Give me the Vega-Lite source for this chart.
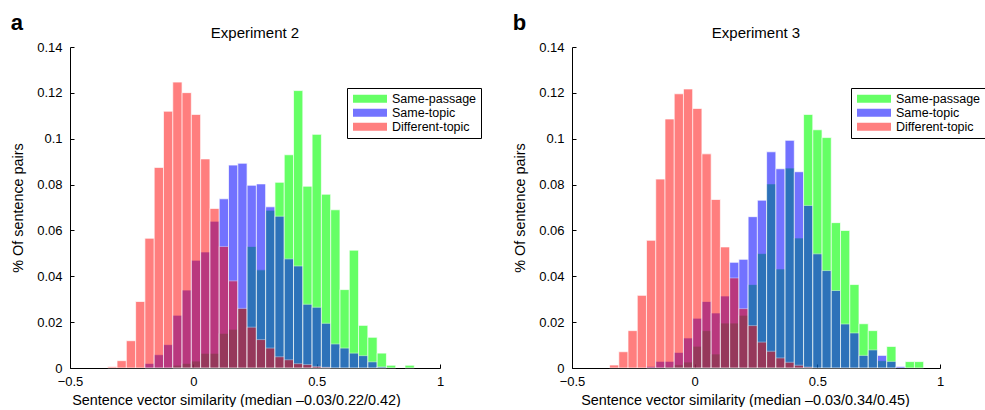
{
  "$schema": "https://vega.github.io/schema/vega-lite/v6.json",
  "padding": {"left": 10, "top": 12, "right": 0, "bottom": 0},
  "config": {
    "view": {"stroke": null},
    "font": "Liberation Sans",
    "axis": {
      "domainColor": "black", "tickColor": "black", "labelColor": "black", "titleColor": "black",
      "labelFont": "Liberation Sans", "titleFont": "Liberation Sans",
      "labelFontSize": 13, "titleFontSize": 14.4, "titleFontWeight": "normal",
      "grid": false, "tickSize": -4, "domainWidth": 1, "tickWidth": 1, "zindex": 1, "labelFlush": false
    },
    "title": {"font": "Liberation Sans", "color": "black"}
  },
  "datasets": {
    "a": [
      {"x0": -0.3470, "x1": -0.3093, "Same-passage": 0, "Same-topic": 0, "Different-topic": 0.0005},
      {"x0": -0.3093, "x1": -0.2717, "Same-passage": 0, "Same-topic": 0, "Different-topic": 0.0032},
      {"x0": -0.2717, "x1": -0.2340, "Same-passage": 0, "Same-topic": 0, "Different-topic": 0.0119},
      {"x0": -0.2340, "x1": -0.1964, "Same-passage": 0, "Same-topic": 0, "Different-topic": 0.029},
      {"x0": -0.1964, "x1": -0.1587, "Same-passage": 0, "Same-topic": 0.002, "Different-topic": 0.0566},
      {"x0": -0.1587, "x1": -0.1210, "Same-passage": 0, "Same-topic": 0.0058, "Different-topic": 0.0875},
      {"x0": -0.1210, "x1": -0.0834, "Same-passage": 0, "Same-topic": 0.0102, "Different-topic": 0.112},
      {"x0": -0.0834, "x1": -0.0457, "Same-passage": 0.0012, "Same-topic": 0.023, "Different-topic": 0.1247},
      {"x0": -0.0457, "x1": -0.0081, "Same-passage": 0.002, "Same-topic": 0.034, "Different-topic": 0.1201},
      {"x0": -0.0081, "x1": 0.0296, "Same-passage": 0.003, "Same-topic": 0.047, "Different-topic": 0.1106},
      {"x0": 0.0296, "x1": 0.0673, "Same-passage": 0.0064, "Same-topic": 0.0506, "Different-topic": 0.0912},
      {"x0": 0.0673, "x1": 0.1049, "Same-passage": 0.0064, "Same-topic": 0.064, "Different-topic": 0.0696},
      {"x0": 0.1049, "x1": 0.1426, "Same-passage": 0.0151, "Same-topic": 0.0738, "Different-topic": 0.053},
      {"x0": 0.1426, "x1": 0.1802, "Same-passage": 0.0169, "Same-topic": 0.0885, "Different-topic": 0.038},
      {"x0": 0.1802, "x1": 0.2179, "Same-passage": 0.026, "Same-topic": 0.0893, "Different-topic": 0.026},
      {"x0": 0.2179, "x1": 0.2556, "Same-passage": 0.053, "Same-topic": 0.0797, "Different-topic": 0.0178},
      {"x0": 0.2556, "x1": 0.2932, "Same-passage": 0.0428, "Same-topic": 0.0803, "Different-topic": 0.0124},
      {"x0": 0.2932, "x1": 0.3309, "Same-passage": 0.0688, "Same-topic": 0.0703, "Different-topic": 0.0087},
      {"x0": 0.3309, "x1": 0.3685, "Same-passage": 0.081, "Same-topic": 0.0662, "Different-topic": 0.0049},
      {"x0": 0.3685, "x1": 0.4062, "Same-passage": 0.093, "Same-topic": 0.0476, "Different-topic": 0.0036},
      {"x0": 0.4062, "x1": 0.4439, "Same-passage": 0.121, "Same-topic": 0.0445, "Different-topic": 0.0019},
      {"x0": 0.4439, "x1": 0.4815, "Same-passage": 0.0793, "Same-topic": 0.0278, "Different-topic": 0.0015},
      {"x0": 0.4815, "x1": 0.5192, "Same-passage": 0.1019, "Same-topic": 0.0265, "Different-topic": 0.0007},
      {"x0": 0.5192, "x1": 0.5568, "Same-passage": 0.0758, "Same-topic": 0.0195, "Different-topic": 0.0003},
      {"x0": 0.5568, "x1": 0.5945, "Same-passage": 0.069, "Same-topic": 0.0105, "Different-topic": 0},
      {"x0": 0.5945, "x1": 0.6322, "Same-passage": 0.0342, "Same-topic": 0.0087, "Different-topic": 0},
      {"x0": 0.6322, "x1": 0.6698, "Same-passage": 0.0514, "Same-topic": 0.0065, "Different-topic": 0},
      {"x0": 0.6698, "x1": 0.7075, "Same-passage": 0.0186, "Same-topic": 0.0054, "Different-topic": 0},
      {"x0": 0.7075, "x1": 0.7451, "Same-passage": 0.0134, "Same-topic": 0.0027, "Different-topic": 0},
      {"x0": 0.7451, "x1": 0.7828, "Same-passage": 0.0065, "Same-topic": 0.0005, "Different-topic": 0},
      {"x0": 0.7828, "x1": 0.8205, "Same-passage": 0.0012, "Same-topic": 0, "Different-topic": 0},
      {"x0": 0.8581, "x1": 0.8958, "Same-passage": 0.0012, "Same-topic": 0, "Different-topic": 0}
    ],
    "b": [
      {"x0": -0.3470, "x1": -0.3093, "Same-passage": 0, "Same-topic": 0, "Different-topic": 0.0013},
      {"x0": -0.3093, "x1": -0.2717, "Same-passage": 0, "Same-topic": 0, "Different-topic": 0.0071},
      {"x0": -0.2717, "x1": -0.2340, "Same-passage": 0, "Same-topic": 0, "Different-topic": 0.0163},
      {"x0": -0.2340, "x1": -0.1964, "Same-passage": 0, "Same-topic": 0, "Different-topic": 0.0317},
      {"x0": -0.1964, "x1": -0.1587, "Same-passage": 0, "Same-topic": 0.0007, "Different-topic": 0.0557},
      {"x0": -0.1587, "x1": -0.1210, "Same-passage": 0, "Same-topic": 0.0029, "Different-topic": 0.0824},
      {"x0": -0.1210, "x1": -0.0834, "Same-passage": 0.0005, "Same-topic": 0.0029, "Different-topic": 0.1086},
      {"x0": -0.0834, "x1": -0.0457, "Same-passage": 0.0014, "Same-topic": 0.0068, "Different-topic": 0.1196},
      {"x0": -0.0457, "x1": -0.0081, "Same-passage": 0.0026, "Same-topic": 0.0131, "Different-topic": 0.1217},
      {"x0": -0.0081, "x1": 0.0296, "Same-passage": 0.0095, "Same-topic": 0.0217, "Different-topic": 0.1132},
      {"x0": 0.0296, "x1": 0.0673, "Same-passage": 0.0163, "Same-topic": 0.029, "Different-topic": 0.0934},
      {"x0": 0.0673, "x1": 0.1049, "Same-passage": 0.0061, "Same-topic": 0.024, "Different-topic": 0.0735},
      {"x0": 0.1049, "x1": 0.1426, "Same-passage": 0.0196, "Same-topic": 0.0314, "Different-topic": 0.0528},
      {"x0": 0.1426, "x1": 0.1802, "Same-passage": 0.0196, "Same-topic": 0.0461, "Different-topic": 0.0393},
      {"x0": 0.1802, "x1": 0.2179, "Same-passage": 0.023, "Same-topic": 0.0474, "Different-topic": 0.0259},
      {"x0": 0.2179, "x1": 0.2556, "Same-passage": 0.0364, "Same-topic": 0.066, "Different-topic": 0.0185},
      {"x0": 0.2556, "x1": 0.2932, "Same-passage": 0.0499, "Same-topic": 0.0732, "Different-topic": 0.0113},
      {"x0": 0.2932, "x1": 0.3309, "Same-passage": 0.0803, "Same-topic": 0.0943, "Different-topic": 0.0073},
      {"x0": 0.3309, "x1": 0.3685, "Same-passage": 0.0432, "Same-topic": 0.0869, "Different-topic": 0.0044},
      {"x0": 0.3685, "x1": 0.4062, "Same-passage": 0.0872, "Same-topic": 0.0993, "Different-topic": 0.0025},
      {"x0": 0.4062, "x1": 0.4439, "Same-passage": 0.0567, "Same-topic": 0.0856, "Different-topic": 0.0012},
      {"x0": 0.4439, "x1": 0.4815, "Same-passage": 0.1106, "Same-topic": 0.0709, "Different-topic": 0.0004},
      {"x0": 0.4815, "x1": 0.5192, "Same-passage": 0.1039, "Same-topic": 0.0498, "Different-topic": 0},
      {"x0": 0.5192, "x1": 0.5568, "Same-passage": 0.1005, "Same-topic": 0.0425, "Different-topic": 0},
      {"x0": 0.5568, "x1": 0.5945, "Same-passage": 0.0634, "Same-topic": 0.0338, "Different-topic": 0},
      {"x0": 0.5945, "x1": 0.6322, "Same-passage": 0.060, "Same-topic": 0.0192, "Different-topic": 0},
      {"x0": 0.6322, "x1": 0.6698, "Same-passage": 0.0364, "Same-topic": 0.0153, "Different-topic": 0},
      {"x0": 0.6698, "x1": 0.7075, "Same-passage": 0.0193, "Same-topic": 0.0055, "Different-topic": 0},
      {"x0": 0.7075, "x1": 0.7451, "Same-passage": 0.0163, "Same-topic": 0.0079, "Different-topic": 0},
      {"x0": 0.7451, "x1": 0.7828, "Same-passage": 0.0032, "Same-topic": 0.0055, "Different-topic": 0},
      {"x0": 0.7828, "x1": 0.8205, "Same-passage": 0.0094, "Same-topic": 0.0029, "Different-topic": 0},
      {"x0": 0.8205, "x1": 0.8581, "Same-passage": 0, "Same-topic": 0.0007, "Different-topic": 0},
      {"x0": 0.8581, "x1": 0.8958, "Same-passage": 0.0028, "Same-topic": 0, "Different-topic": 0},
      {"x0": 0.8958, "x1": 0.9334, "Same-passage": 0.0028, "Same-topic": 0, "Different-topic": 0}
    ]
  },
  "spacing": 30,
  "resolve": {"scale": {"color": "independent", "opacity": "independent", "x": "independent", "y": "independent"}, "legend": {"color": "independent", "opacity": "independent"}},
  "hconcat": [
    {
      "title": {"text": "a", "fontSize": 22, "fontWeight": "bold", "anchor": "start", "frame": "bounds", "baseline": "alphabetic", "offset": -26},
      "resolve": {"scale": {"color": "independent", "opacity": "independent"}, "legend": {"color": "independent", "opacity": "independent"}},
      "vconcat": [
        {
          "width": 370, "height": 321,
          "title": {"text": "Experiment 2", "fontSize": 15, "fontWeight": "normal", "anchor": "middle", "frame": "group", "baseline": "alphabetic", "offset": -12},
          "data": {"name": "a"},
          "transform": [
            {"fold": ["Same-passage", "Same-topic", "Different-topic"], "as": ["s", "v"]},
            {"filter": "datum.v > 0"}
          ],
          "mark": {"type": "bar", "stroke": "white", "strokeWidth": 0.7},
          "encoding": {
            "x": {"field": "x0", "type": "quantitative", "scale": {"domain": [-0.5, 1], "nice": false, "zero": false},
                  "axis": {"values": [-0.5, 0, 0.5, 1], "format": "~g", "labelPadding": 11, "titlePadding": 5, "titleAnchor": "middle", "titleX": 166, "title": "Sentence vector similarity (median –0.03/0.22/0.42)"}},
            "x2": {"field": "x1"},
            "y": {"field": "v", "type": "quantitative", "stack": null, "scale": {"domain": [0, 0.14], "nice": false},
                  "axis": {"values": [0, 0.02, 0.04, 0.06, 0.08, 0.1, 0.12, 0.14], "format": "~g", "labelPadding": 12, "titlePadding": 11, "title": "% Of sentence pairs"}},
            "y2": {"datum": 0},
            "color": {"field": "s", "type": "nominal", "scale": {"domain": ["Same-passage", "Same-topic", "Different-topic"], "range": ["#00ff00", "#0000ff", "#ff0000"]},
                      "legend": {"title": null, "orient": "none", "legendX": 277, "legendY": 41,
                                 "symbolType": "M-1,-0.24H1V0.24H-1Z", "symbolSize": 1156, "symbolStrokeWidth": 0, "symbolOpacity": 0.55,
                                 "labelFontSize": 12.5, "labelFont": "Liberation Sans", "labelColor": "black", "clipHeight": 13.5,
                                 "strokeColor": "black", "fillColor": "white", "padding": 4, "rowPadding": 0, "labelOffset": 5, "symbolOffset": 2}},
            "opacity": {"field": "s", "type": "nominal", "scale": {"domain": ["Same-passage", "Same-topic", "Different-topic"], "range": [0.6, 0.5, 0.5]}, "legend": null}
          }
        }
      ]
    },
    {
      "title": {"text": "b", "fontSize": 22, "fontWeight": "bold", "anchor": "start", "frame": "bounds", "baseline": "alphabetic", "offset": -26},
      "resolve": {"scale": {"color": "independent", "opacity": "independent"}, "legend": {"color": "independent", "opacity": "independent"}},
      "vconcat": [
        {
          "width": 368, "height": 321,
          "title": {"text": "Experiment 3", "fontSize": 15, "fontWeight": "normal", "anchor": "middle", "frame": "group", "baseline": "alphabetic", "offset": -12},
          "data": {"name": "b"},
          "transform": [
            {"fold": ["Same-passage", "Same-topic", "Different-topic"], "as": ["s", "v"]},
            {"filter": "datum.v > 0"}
          ],
          "mark": {"type": "bar", "stroke": "white", "strokeWidth": 0.7},
          "encoding": {
            "x": {"field": "x0", "type": "quantitative", "scale": {"domain": [-0.5, 1], "nice": false, "zero": false},
                  "axis": {"values": [-0.5, 0, 0.5, 1], "format": "~g", "labelPadding": 11, "titlePadding": 5, "titleAnchor": "middle", "titleX": 173, "title": "Sentence vector similarity (median –0.03/0.34/0.45)"}},
            "x2": {"field": "x1"},
            "y": {"field": "v", "type": "quantitative", "stack": null, "scale": {"domain": [0, 0.14], "nice": false},
                  "axis": {"values": [0, 0.02, 0.04, 0.06, 0.08, 0.1, 0.12, 0.14], "format": "~g", "labelPadding": 12, "titlePadding": 11, "title": "% Of sentence pairs"}},
            "y2": {"datum": 0},
            "color": {"field": "s", "type": "nominal", "scale": {"domain": ["Same-passage", "Same-topic", "Different-topic"], "range": ["#00ff00", "#0000ff", "#ff0000"]},
                      "legend": {"title": null, "orient": "none", "legendX": 279, "legendY": 41,
                                 "symbolType": "M-1,-0.24H1V0.24H-1Z", "symbolSize": 1156, "symbolStrokeWidth": 0, "symbolOpacity": 0.55,
                                 "labelFontSize": 12.5, "labelFont": "Liberation Sans", "labelColor": "black", "clipHeight": 13.5,
                                 "strokeColor": "black", "fillColor": "white", "padding": 4, "rowPadding": 0, "labelOffset": 5, "symbolOffset": 2}},
            "opacity": {"field": "s", "type": "nominal", "scale": {"domain": ["Same-passage", "Same-topic", "Different-topic"], "range": [0.6, 0.5, 0.5]}, "legend": null}
          }
        }
      ]
    }
  ]
}
